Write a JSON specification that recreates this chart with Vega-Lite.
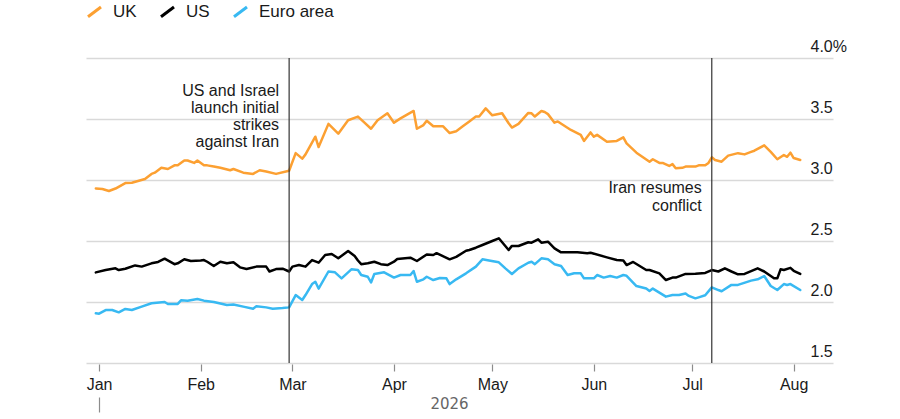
{
  "$schema": "https://vega.github.io/schema/vega-lite/v6.json",
  "width": 747,
  "height": 305,
  "autosize": "none",
  "padding": {"left": 86, "top": 58, "right": 67, "bottom": 56},
  "background": "white",
  "config": {
    "view": {"stroke": null},
    "font": "Liberation Sans",
    "text": {"font": "Liberation Sans"}
  },
  "layer": [
    {
      "data": {
        "values": [
          {"date": "2025-12-31", "series": "UK", "value": 2.93},
          {"date": "2026-01-02", "series": "UK", "value": 2.926},
          {"date": "2026-01-04", "series": "UK", "value": 2.91},
          {"date": "2026-01-06", "series": "UK", "value": 2.93},
          {"date": "2026-01-09", "series": "UK", "value": 2.975},
          {"date": "2026-01-11", "series": "UK", "value": 2.978},
          {"date": "2026-01-15", "series": "UK", "value": 3.008},
          {"date": "2026-01-17", "series": "UK", "value": 3.05},
          {"date": "2026-01-18", "series": "UK", "value": 3.06},
          {"date": "2026-01-20", "series": "UK", "value": 3.1},
          {"date": "2026-01-22", "series": "UK", "value": 3.09},
          {"date": "2026-01-24", "series": "UK", "value": 3.12},
          {"date": "2026-01-25", "series": "UK", "value": 3.12},
          {"date": "2026-01-27", "series": "UK", "value": 3.16},
          {"date": "2026-01-28", "series": "UK", "value": 3.16},
          {"date": "2026-01-30", "series": "UK", "value": 3.14},
          {"date": "2026-01-31", "series": "UK", "value": 3.16},
          {"date": "2026-02-02", "series": "UK", "value": 3.12},
          {"date": "2026-02-03", "series": "UK", "value": 3.12},
          {"date": "2026-02-05", "series": "UK", "value": 3.11},
          {"date": "2026-02-07", "series": "UK", "value": 3.1},
          {"date": "2026-02-10", "series": "UK", "value": 3.08},
          {"date": "2026-02-11", "series": "UK", "value": 3.09},
          {"date": "2026-02-14", "series": "UK", "value": 3.06},
          {"date": "2026-02-17", "series": "UK", "value": 3.05},
          {"date": "2026-02-19", "series": "UK", "value": 3.08},
          {"date": "2026-02-21", "series": "UK", "value": 3.07},
          {"date": "2026-02-24", "series": "UK", "value": 3.05},
          {"date": "2026-02-28", "series": "UK", "value": 3.076},
          {"date": "2026-03-02", "series": "UK", "value": 3.22},
          {"date": "2026-03-04", "series": "UK", "value": 3.175},
          {"date": "2026-03-05", "series": "UK", "value": 3.21},
          {"date": "2026-03-08", "series": "UK", "value": 3.355},
          {"date": "2026-03-09", "series": "UK", "value": 3.27},
          {"date": "2026-03-12", "series": "UK", "value": 3.46},
          {"date": "2026-03-15", "series": "UK", "value": 3.38},
          {"date": "2026-03-18", "series": "UK", "value": 3.49},
          {"date": "2026-03-21", "series": "UK", "value": 3.52},
          {"date": "2026-03-23", "series": "UK", "value": 3.47},
          {"date": "2026-03-25", "series": "UK", "value": 3.42},
          {"date": "2026-03-27", "series": "UK", "value": 3.49},
          {"date": "2026-03-30", "series": "UK", "value": 3.547},
          {"date": "2026-04-01", "series": "UK", "value": 3.47},
          {"date": "2026-04-03", "series": "UK", "value": 3.505},
          {"date": "2026-04-07", "series": "UK", "value": 3.566},
          {"date": "2026-04-08", "series": "UK", "value": 3.42},
          {"date": "2026-04-10", "series": "UK", "value": 3.45},
          {"date": "2026-04-11", "series": "UK", "value": 3.486},
          {"date": "2026-04-13", "series": "UK", "value": 3.44},
          {"date": "2026-04-16", "series": "UK", "value": 3.44},
          {"date": "2026-04-18", "series": "UK", "value": 3.385},
          {"date": "2026-04-20", "series": "UK", "value": 3.4},
          {"date": "2026-04-22", "series": "UK", "value": 3.44},
          {"date": "2026-04-24", "series": "UK", "value": 3.48},
          {"date": "2026-04-26", "series": "UK", "value": 3.52},
          {"date": "2026-04-27", "series": "UK", "value": 3.52},
          {"date": "2026-04-29", "series": "UK", "value": 3.587},
          {"date": "2026-05-01", "series": "UK", "value": 3.53},
          {"date": "2026-05-04", "series": "UK", "value": 3.547},
          {"date": "2026-05-06", "series": "UK", "value": 3.465},
          {"date": "2026-05-07", "series": "UK", "value": 3.43},
          {"date": "2026-05-09", "series": "UK", "value": 3.46},
          {"date": "2026-05-12", "series": "UK", "value": 3.55},
          {"date": "2026-05-13", "series": "UK", "value": 3.547},
          {"date": "2026-05-14", "series": "UK", "value": 3.52},
          {"date": "2026-05-16", "series": "UK", "value": 3.566},
          {"date": "2026-05-17", "series": "UK", "value": 3.557},
          {"date": "2026-05-18", "series": "UK", "value": 3.54},
          {"date": "2026-05-20", "series": "UK", "value": 3.47},
          {"date": "2026-05-21", "series": "UK", "value": 3.48},
          {"date": "2026-05-25", "series": "UK", "value": 3.41},
          {"date": "2026-05-28", "series": "UK", "value": 3.37},
          {"date": "2026-05-29", "series": "UK", "value": 3.32},
          {"date": "2026-05-31", "series": "UK", "value": 3.39},
          {"date": "2026-06-01", "series": "UK", "value": 3.355},
          {"date": "2026-06-02", "series": "UK", "value": 3.37},
          {"date": "2026-06-05", "series": "UK", "value": 3.314},
          {"date": "2026-06-08", "series": "UK", "value": 3.32},
          {"date": "2026-06-10", "series": "UK", "value": 3.35},
          {"date": "2026-06-11", "series": "UK", "value": 3.3},
          {"date": "2026-06-14", "series": "UK", "value": 3.224},
          {"date": "2026-06-15", "series": "UK", "value": 3.205},
          {"date": "2026-06-18", "series": "UK", "value": 3.15},
          {"date": "2026-06-19", "series": "UK", "value": 3.17},
          {"date": "2026-06-21", "series": "UK", "value": 3.14},
          {"date": "2026-06-22", "series": "UK", "value": 3.14},
          {"date": "2026-06-24", "series": "UK", "value": 3.115},
          {"date": "2026-06-25", "series": "UK", "value": 3.13},
          {"date": "2026-06-26", "series": "UK", "value": 3.096},
          {"date": "2026-06-28", "series": "UK", "value": 3.1},
          {"date": "2026-06-29", "series": "UK", "value": 3.11},
          {"date": "2026-07-02", "series": "UK", "value": 3.11},
          {"date": "2026-07-03", "series": "UK", "value": 3.12},
          {"date": "2026-07-05", "series": "UK", "value": 3.12},
          {"date": "2026-07-06", "series": "UK", "value": 3.14},
          {"date": "2026-07-07", "series": "UK", "value": 3.186},
          {"date": "2026-07-08", "series": "UK", "value": 3.164},
          {"date": "2026-07-10", "series": "UK", "value": 3.15},
          {"date": "2026-07-12", "series": "UK", "value": 3.2},
          {"date": "2026-07-15", "series": "UK", "value": 3.22},
          {"date": "2026-07-17", "series": "UK", "value": 3.21},
          {"date": "2026-07-19", "series": "UK", "value": 3.23},
          {"date": "2026-07-20", "series": "UK", "value": 3.24},
          {"date": "2026-07-23", "series": "UK", "value": 3.284},
          {"date": "2026-07-25", "series": "UK", "value": 3.23},
          {"date": "2026-07-27", "series": "UK", "value": 3.17},
          {"date": "2026-07-29", "series": "UK", "value": 3.205},
          {"date": "2026-07-30", "series": "UK", "value": 3.19},
          {"date": "2026-07-31", "series": "UK", "value": 3.224},
          {"date": "2026-08-01", "series": "UK", "value": 3.18},
          {"date": "2026-08-03", "series": "UK", "value": 3.164},

          {"date": "2025-12-31", "series": "US", "value": 2.243},
          {"date": "2026-01-03", "series": "US", "value": 2.262},
          {"date": "2026-01-06", "series": "US", "value": 2.276},
          {"date": "2026-01-07", "series": "US", "value": 2.262},
          {"date": "2026-01-09", "series": "US", "value": 2.273},
          {"date": "2026-01-12", "series": "US", "value": 2.3},
          {"date": "2026-01-14", "series": "US", "value": 2.29},
          {"date": "2026-01-17", "series": "US", "value": 2.317},
          {"date": "2026-01-19", "series": "US", "value": 2.328},
          {"date": "2026-01-21", "series": "US", "value": 2.355},
          {"date": "2026-01-24", "series": "US", "value": 2.31},
          {"date": "2026-01-25", "series": "US", "value": 2.317},
          {"date": "2026-01-27", "series": "US", "value": 2.35},
          {"date": "2026-01-29", "series": "US", "value": 2.336},
          {"date": "2026-02-01", "series": "US", "value": 2.34},
          {"date": "2026-02-02", "series": "US", "value": 2.344},
          {"date": "2026-02-03", "series": "US", "value": 2.33},
          {"date": "2026-02-05", "series": "US", "value": 2.295},
          {"date": "2026-02-07", "series": "US", "value": 2.33},
          {"date": "2026-02-09", "series": "US", "value": 2.317},
          {"date": "2026-02-11", "series": "US", "value": 2.325},
          {"date": "2026-02-13", "series": "US", "value": 2.284},
          {"date": "2026-02-15", "series": "US", "value": 2.27},
          {"date": "2026-02-18", "series": "US", "value": 2.29},
          {"date": "2026-02-21", "series": "US", "value": 2.29},
          {"date": "2026-02-22", "series": "US", "value": 2.25},
          {"date": "2026-02-24", "series": "US", "value": 2.27},
          {"date": "2026-02-26", "series": "US", "value": 2.273},
          {"date": "2026-02-28", "series": "US", "value": 2.25},
          {"date": "2026-03-01", "series": "US", "value": 2.29},
          {"date": "2026-03-03", "series": "US", "value": 2.303},
          {"date": "2026-03-05", "series": "US", "value": 2.29},
          {"date": "2026-03-07", "series": "US", "value": 2.344},
          {"date": "2026-03-09", "series": "US", "value": 2.322},
          {"date": "2026-03-11", "series": "US", "value": 2.385},
          {"date": "2026-03-13", "series": "US", "value": 2.393},
          {"date": "2026-03-15", "series": "US", "value": 2.358},
          {"date": "2026-03-18", "series": "US", "value": 2.418},
          {"date": "2026-03-20", "series": "US", "value": 2.377},
          {"date": "2026-03-21", "series": "US", "value": 2.34},
          {"date": "2026-03-22", "series": "US", "value": 2.31},
          {"date": "2026-03-24", "series": "US", "value": 2.317},
          {"date": "2026-03-26", "series": "US", "value": 2.33},
          {"date": "2026-03-28", "series": "US", "value": 2.31},
          {"date": "2026-03-30", "series": "US", "value": 2.303},
          {"date": "2026-04-01", "series": "US", "value": 2.33},
          {"date": "2026-04-02", "series": "US", "value": 2.352},
          {"date": "2026-04-06", "series": "US", "value": 2.363},
          {"date": "2026-04-08", "series": "US", "value": 2.336},
          {"date": "2026-04-11", "series": "US", "value": 2.39},
          {"date": "2026-04-13", "series": "US", "value": 2.385},
          {"date": "2026-04-14", "series": "US", "value": 2.4},
          {"date": "2026-04-18", "series": "US", "value": 2.35},
          {"date": "2026-04-20", "series": "US", "value": 2.37},
          {"date": "2026-04-23", "series": "US", "value": 2.42},
          {"date": "2026-04-24", "series": "US", "value": 2.426},
          {"date": "2026-04-26", "series": "US", "value": 2.445},
          {"date": "2026-04-28", "series": "US", "value": 2.467},
          {"date": "2026-05-01", "series": "US", "value": 2.5},
          {"date": "2026-05-03", "series": "US", "value": 2.522},
          {"date": "2026-05-06", "series": "US", "value": 2.426},
          {"date": "2026-05-07", "series": "US", "value": 2.46},
          {"date": "2026-05-09", "series": "US", "value": 2.459},
          {"date": "2026-05-12", "series": "US", "value": 2.49},
          {"date": "2026-05-13", "series": "US", "value": 2.486},
          {"date": "2026-05-15", "series": "US", "value": 2.514},
          {"date": "2026-05-16", "series": "US", "value": 2.486},
          {"date": "2026-05-18", "series": "US", "value": 2.494},
          {"date": "2026-05-20", "series": "US", "value": 2.44},
          {"date": "2026-05-22", "series": "US", "value": 2.407},
          {"date": "2026-05-27", "series": "US", "value": 2.407},
          {"date": "2026-05-30", "series": "US", "value": 2.4},
          {"date": "2026-05-31", "series": "US", "value": 2.404},
          {"date": "2026-06-05", "series": "US", "value": 2.366},
          {"date": "2026-06-08", "series": "US", "value": 2.344},
          {"date": "2026-06-10", "series": "US", "value": 2.34},
          {"date": "2026-06-11", "series": "US", "value": 2.303},
          {"date": "2026-06-13", "series": "US", "value": 2.328},
          {"date": "2026-06-17", "series": "US", "value": 2.262},
          {"date": "2026-06-18", "series": "US", "value": 2.262},
          {"date": "2026-06-21", "series": "US", "value": 2.235},
          {"date": "2026-06-23", "series": "US", "value": 2.18},
          {"date": "2026-06-25", "series": "US", "value": 2.2},
          {"date": "2026-06-26", "series": "US", "value": 2.2},
          {"date": "2026-06-29", "series": "US", "value": 2.23},
          {"date": "2026-07-02", "series": "US", "value": 2.232},
          {"date": "2026-07-05", "series": "US", "value": 2.238},
          {"date": "2026-07-07", "series": "US", "value": 2.262},
          {"date": "2026-07-09", "series": "US", "value": 2.25},
          {"date": "2026-07-11", "series": "US", "value": 2.276},
          {"date": "2026-07-13", "series": "US", "value": 2.25},
          {"date": "2026-07-15", "series": "US", "value": 2.227},
          {"date": "2026-07-17", "series": "US", "value": 2.23},
          {"date": "2026-07-21", "series": "US", "value": 2.276},
          {"date": "2026-07-23", "series": "US", "value": 2.25},
          {"date": "2026-07-26", "series": "US", "value": 2.194},
          {"date": "2026-07-27", "series": "US", "value": 2.194},
          {"date": "2026-07-28", "series": "US", "value": 2.268},
          {"date": "2026-07-29", "series": "US", "value": 2.262},
          {"date": "2026-07-31", "series": "US", "value": 2.28},
          {"date": "2026-08-01", "series": "US", "value": 2.256},
          {"date": "2026-08-03", "series": "US", "value": 2.23},

          {"date": "2025-12-31", "series": "Euro area", "value": 1.907},
          {"date": "2026-01-01", "series": "Euro area", "value": 1.904},
          {"date": "2026-01-03", "series": "Euro area", "value": 1.934},
          {"date": "2026-01-05", "series": "Euro area", "value": 1.934},
          {"date": "2026-01-07", "series": "Euro area", "value": 1.915},
          {"date": "2026-01-09", "series": "Euro area", "value": 1.943},
          {"date": "2026-01-11", "series": "Euro area", "value": 1.934},
          {"date": "2026-01-14", "series": "Euro area", "value": 1.962},
          {"date": "2026-01-17", "series": "Euro area", "value": 1.99},
          {"date": "2026-01-21", "series": "Euro area", "value": 2.0},
          {"date": "2026-01-22", "series": "Euro area", "value": 1.984},
          {"date": "2026-01-25", "series": "Euro area", "value": 1.984},
          {"date": "2026-01-26", "series": "Euro area", "value": 2.014},
          {"date": "2026-01-28", "series": "Euro area", "value": 2.011},
          {"date": "2026-01-31", "series": "Euro area", "value": 2.025},
          {"date": "2026-02-02", "series": "Euro area", "value": 2.011},
          {"date": "2026-02-05", "series": "Euro area", "value": 2.0},
          {"date": "2026-02-09", "series": "Euro area", "value": 1.975},
          {"date": "2026-02-11", "series": "Euro area", "value": 1.98},
          {"date": "2026-02-14", "series": "Euro area", "value": 1.962},
          {"date": "2026-02-17", "series": "Euro area", "value": 1.945},
          {"date": "2026-02-18", "series": "Euro area", "value": 1.965},
          {"date": "2026-02-21", "series": "Euro area", "value": 1.956},
          {"date": "2026-02-23", "series": "Euro area", "value": 1.945},
          {"date": "2026-02-26", "series": "Euro area", "value": 1.95},
          {"date": "2026-02-28", "series": "Euro area", "value": 1.956},
          {"date": "2026-03-02", "series": "Euro area", "value": 2.057},
          {"date": "2026-03-04", "series": "Euro area", "value": 2.016},
          {"date": "2026-03-05", "series": "Euro area", "value": 2.057},
          {"date": "2026-03-07", "series": "Euro area", "value": 2.147},
          {"date": "2026-03-08", "series": "Euro area", "value": 2.166},
          {"date": "2026-03-09", "series": "Euro area", "value": 2.11},
          {"date": "2026-03-12", "series": "Euro area", "value": 2.25},
          {"date": "2026-03-14", "series": "Euro area", "value": 2.243},
          {"date": "2026-03-16", "series": "Euro area", "value": 2.194},
          {"date": "2026-03-19", "series": "Euro area", "value": 2.268},
          {"date": "2026-03-21", "series": "Euro area", "value": 2.262},
          {"date": "2026-03-22", "series": "Euro area", "value": 2.221},
          {"date": "2026-03-24", "series": "Euro area", "value": 2.207},
          {"date": "2026-03-25", "series": "Euro area", "value": 2.16},
          {"date": "2026-03-26", "series": "Euro area", "value": 2.23},
          {"date": "2026-03-29", "series": "Euro area", "value": 2.243},
          {"date": "2026-04-01", "series": "Euro area", "value": 2.2},
          {"date": "2026-04-03", "series": "Euro area", "value": 2.221},
          {"date": "2026-04-06", "series": "Euro area", "value": 2.221},
          {"date": "2026-04-07", "series": "Euro area", "value": 2.254},
          {"date": "2026-04-08", "series": "Euro area", "value": 2.166},
          {"date": "2026-04-10", "series": "Euro area", "value": 2.186},
          {"date": "2026-04-11", "series": "Euro area", "value": 2.207},
          {"date": "2026-04-13", "series": "Euro area", "value": 2.18},
          {"date": "2026-04-15", "series": "Euro area", "value": 2.197},
          {"date": "2026-04-17", "series": "Euro area", "value": 2.194},
          {"date": "2026-04-18", "series": "Euro area", "value": 2.147},
          {"date": "2026-04-20", "series": "Euro area", "value": 2.186},
          {"date": "2026-04-23", "series": "Euro area", "value": 2.235},
          {"date": "2026-04-26", "series": "Euro area", "value": 2.29},
          {"date": "2026-04-28", "series": "Euro area", "value": 2.35},
          {"date": "2026-04-30", "series": "Euro area", "value": 2.34},
          {"date": "2026-05-03", "series": "Euro area", "value": 2.325},
          {"date": "2026-05-05", "series": "Euro area", "value": 2.276},
          {"date": "2026-05-07", "series": "Euro area", "value": 2.23},
          {"date": "2026-05-09", "series": "Euro area", "value": 2.276},
          {"date": "2026-05-12", "series": "Euro area", "value": 2.322},
          {"date": "2026-05-13", "series": "Euro area", "value": 2.33},
          {"date": "2026-05-14", "series": "Euro area", "value": 2.31},
          {"date": "2026-05-16", "series": "Euro area", "value": 2.358},
          {"date": "2026-05-18", "series": "Euro area", "value": 2.35},
          {"date": "2026-05-20", "series": "Euro area", "value": 2.31},
          {"date": "2026-05-22", "series": "Euro area", "value": 2.295},
          {"date": "2026-05-24", "series": "Euro area", "value": 2.221},
          {"date": "2026-05-26", "series": "Euro area", "value": 2.235},
          {"date": "2026-05-28", "series": "Euro area", "value": 2.235},
          {"date": "2026-05-29", "series": "Euro area", "value": 2.194},
          {"date": "2026-06-01", "series": "Euro area", "value": 2.194},
          {"date": "2026-06-02", "series": "Euro area", "value": 2.221},
          {"date": "2026-06-04", "series": "Euro area", "value": 2.2},
          {"date": "2026-06-06", "series": "Euro area", "value": 2.213},
          {"date": "2026-06-08", "series": "Euro area", "value": 2.2},
          {"date": "2026-06-10", "series": "Euro area", "value": 2.221},
          {"date": "2026-06-11", "series": "Euro area", "value": 2.215},
          {"date": "2026-06-14", "series": "Euro area", "value": 2.131},
          {"date": "2026-06-17", "series": "Euro area", "value": 2.11},
          {"date": "2026-06-18", "series": "Euro area", "value": 2.09},
          {"date": "2026-06-19", "series": "Euro area", "value": 2.11},
          {"date": "2026-06-23", "series": "Euro area", "value": 2.044},
          {"date": "2026-06-25", "series": "Euro area", "value": 2.057},
          {"date": "2026-06-27", "series": "Euro area", "value": 2.057},
          {"date": "2026-06-29", "series": "Euro area", "value": 2.07},
          {"date": "2026-06-30", "series": "Euro area", "value": 2.05},
          {"date": "2026-07-02", "series": "Euro area", "value": 2.03},
          {"date": "2026-07-03", "series": "Euro area", "value": 2.038},
          {"date": "2026-07-05", "series": "Euro area", "value": 2.055},
          {"date": "2026-07-07", "series": "Euro area", "value": 2.12},
          {"date": "2026-07-09", "series": "Euro area", "value": 2.098},
          {"date": "2026-07-10", "series": "Euro area", "value": 2.088},
          {"date": "2026-07-13", "series": "Euro area", "value": 2.14},
          {"date": "2026-07-15", "series": "Euro area", "value": 2.14},
          {"date": "2026-07-19", "series": "Euro area", "value": 2.175},
          {"date": "2026-07-21", "series": "Euro area", "value": 2.186},
          {"date": "2026-07-23", "series": "Euro area", "value": 2.213},
          {"date": "2026-07-25", "series": "Euro area", "value": 2.131},
          {"date": "2026-07-27", "series": "Euro area", "value": 2.098},
          {"date": "2026-07-29", "series": "Euro area", "value": 2.147},
          {"date": "2026-07-30", "series": "Euro area", "value": 2.14},
          {"date": "2026-07-31", "series": "Euro area", "value": 2.147},
          {"date": "2026-08-03", "series": "Euro area", "value": 2.098}
        ]
      },
      "mark": {"type": "line", "strokeWidth": 2.5, "strokeJoin": "round", "strokeCap": "round"},
      "encoding": {
        "x": {
          "field": "date",
          "type": "temporal",
          "scale": {
            "type": "utc",
            "domain": [
              {"year": 2025, "month": 12, "date": 28, "utc": true},
              {"year": 2026, "month": 8, "date": 13, "utc": true}
            ]
          },
          "axis": {
            "orient": "bottom",
            "title": null,
            "format": "%b",
            "values": [
              {"year": 2026, "month": 1, "date": 1, "utc": true},
              {"year": 2026, "month": 2, "date": 1, "utc": true},
              {"year": 2026, "month": 3, "date": 1, "utc": true},
              {"year": 2026, "month": 4, "date": 1, "utc": true},
              {"year": 2026, "month": 5, "date": 1, "utc": true},
              {"year": 2026, "month": 6, "date": 1, "utc": true},
              {"year": 2026, "month": 7, "date": 1, "utc": true},
              {"year": 2026, "month": 8, "date": 1, "utc": true}
            ],
            "grid": false,
            "domain": false,
            "offset": 1,
            "ticks": true,
            "tickSize": 7,
            "tickColor": "#8c8c8c",
            "tickWidth": 1.2,
            "labelPadding": 5,
            "labelFlush": false,
            "labelFontSize": 16,
            "labelColor": "#1a1a1a",
            "labelFont": "Liberation Sans"
          }
        },
        "y": {
          "field": "value",
          "type": "quantitative",
          "scale": {"domain": [1.5, 4.0], "nice": false, "zero": false},
          "axis": {
            "orient": "right",
            "title": null,
            "values": [1.5, 2.0, 2.5, 3.0, 3.5, 4.0],
            "labelExpr": "datum.value == 4 ? '4.0%' : format(datum.value, '.1f')",
            "grid": true,
            "gridColor": "#d9d9d9",
            "gridWidth": 1.5,
            "domain": false,
            "ticks": false,
            "tickSize": 0,
            "labelAlign": "left",
            "labelBaseline": "alphabetic",
            "labelPadding": -23,
            "labelOffset": -7,
            "labelFontSize": 16,
            "labelColor": "#1a1a1a",
            "labelFont": "Liberation Sans"
          }
        },
        "color": {
          "field": "series",
          "type": "nominal",
          "scale": {"domain": ["UK", "US", "Euro area"], "range": ["#FCA032", "#000000", "#38B9F2"]},
          "legend": {
            "orient": "top",
            "direction": "horizontal",
            "title": null,
            "offset": 35,
            "padding": 0,
            "symbolType": "M-1,0.75L1,-0.75",
            "symbolSize": 169,
            "symbolStrokeWidth": 3,
            "labelFontSize": 17,
            "labelFont": "Liberation Sans",
            "labelColor": "#1a1a1a",
            "labelOffset": 10,
            "columnPadding": 18
          }
        }
      }
    },
    {
      "data": {"values": [{"date": "2026-02-28"}, {"date": "2026-07-07"}]},
      "mark": {"type": "rule", "color": "#333333", "strokeWidth": 1.2},
      "encoding": {
        "x": {
          "field": "date",
          "type": "temporal",
          "scale": {
            "type": "utc",
            "domain": [
              {"year": 2025, "month": 12, "date": 28, "utc": true},
              {"year": 2026, "month": 8, "date": 13, "utc": true}
            ]
          },
          "axis": {
            "orient": "bottom",
            "offset": 34,
            "values": [{"year": 2026, "month": 1, "date": 1, "utc": true}],
            "labels": false,
            "domain": false,
            "grid": false,
            "ticks": true,
            "tickSize": 15,
            "tickColor": "#8c8c8c",
            "tickWidth": 1.2,
            "title": "2026",
            "titleFont": "DejaVu Sans",
            "titleFontSize": 15,
            "titleFontWeight": "normal",
            "titleColor": "#666666",
            "titleX": 363,
            "titleY": 11,
            "titleAlign": "center",
            "titleBaseline": "alphabetic"
          }
        }
      }
    },
    {
      "data": {"values": [{"date": "2026-02-28", "label": ["US and Israel", "launch initial", "strikes", "against Iran"]}]},
      "mark": {"type": "text", "align": "right", "baseline": "alphabetic", "dx": -10, "fontSize": 16, "lineHeight": 17, "color": "#1a1a1a", "font": "Liberation Sans"},
      "encoding": {
        "x": {"field": "date", "type": "temporal", "axis": null,
          "scale": {"type": "utc", "domain": [{"year": 2025, "month": 12, "date": 28, "utc": true}, {"year": 2026, "month": 8, "date": 13, "utc": true}]}},
        "y": {"datum": 3.688, "type": "quantitative"},
        "text": {"field": "label"}
      }
    },
    {
      "data": {"values": [{"date": "2026-07-07", "label": ["Iran resumes", "conflict"]}]},
      "mark": {"type": "text", "align": "right", "baseline": "alphabetic", "dx": -10, "fontSize": 16, "lineHeight": 17.3, "color": "#1a1a1a", "font": "Liberation Sans"},
      "encoding": {
        "x": {"field": "date", "type": "temporal", "axis": null,
          "scale": {"type": "utc", "domain": [{"year": 2025, "month": 12, "date": 28, "utc": true}, {"year": 2026, "month": 8, "date": 13, "utc": true}]}},
        "y": {"datum": 2.891, "type": "quantitative"},
        "text": {"field": "label"}
      }
    }
  ],
  "resolve": {"axis": {"x": "independent"}}
}
